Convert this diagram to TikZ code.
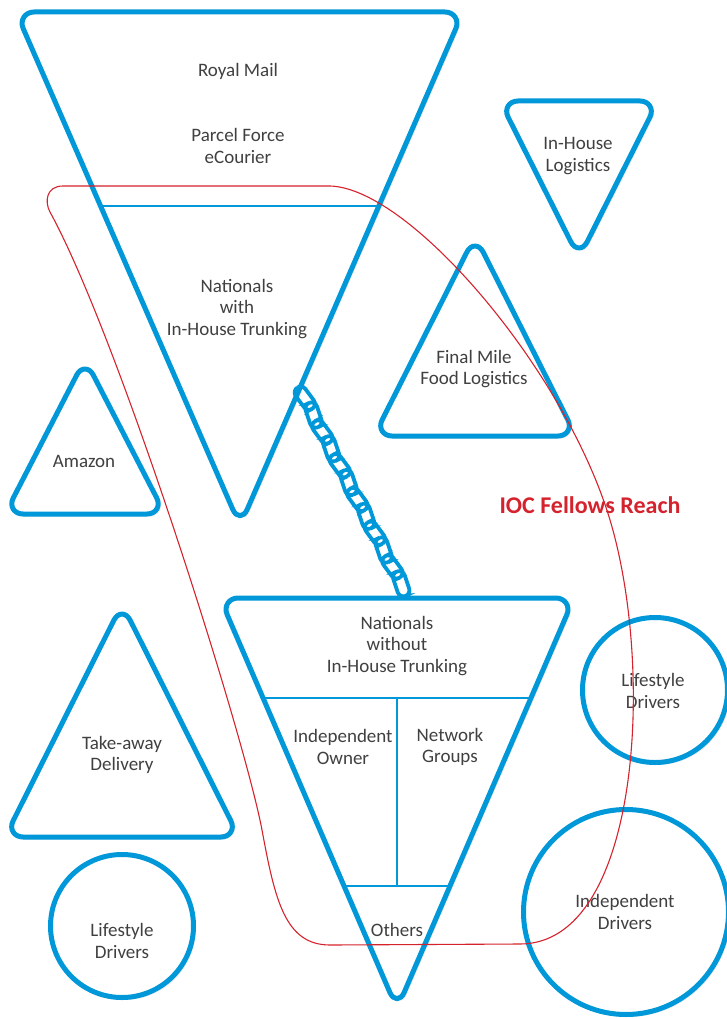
\documentclass[tikz,border=0pt]{standalone}
\usepackage{fontspec}
\setmainfont{Carlito}
\usepackage{tikz}
\usetikzlibrary{calc,shadows,positioning}

\definecolor{ioblue}{RGB}{0,152,216}
\definecolor{iored}{RGB}{213,35,45}
\definecolor{iotext}{RGB}{64,64,64}

% triangle with rounded tips: #2,#3,#4 are its corners
\newcommand{\roundtri}[4][]{%
  \draw[tribox,#1] ($(#2)!18pt!(#3)$) -- ($(#3)!18pt!(#2)$)
    .. controls ($(#3)!9pt!(#2)$) and ($(#3)!9pt!(#4)$) .. ($(#3)!18pt!(#4)$) -- ($(#4)!18pt!(#3)$)
    .. controls ($(#4)!9pt!(#3)$) and ($(#4)!9pt!(#2)$) .. ($(#4)!18pt!(#2)$) -- ($(#2)!18pt!(#4)$)
    .. controls ($(#2)!9pt!(#4)$) and ($(#2)!9pt!(#3)$) .. ($(#2)!18pt!(#3)$) -- cycle;}

\begin{document}
\begin{tikzpicture}[x=1pt,y=-1pt,
    tribox/.style={draw=ioblue, line width=5pt, line join=round, fill=white,
        drop shadow={shadow xshift=2.5pt, shadow yshift=-2.5pt, opacity=0.16}},
    ringbox/.style={draw=ioblue, line width=5pt, fill=white,
        drop shadow={shadow xshift=2.5pt, shadow yshift=-2.5pt, opacity=0.16}},
    split/.style={draw=ioblue, line width=2.2pt},
    lbl/.style={text=iotext, align=center, font=\fontsize{19}{21.5}\selectfont},
    chainlink/.style={draw=ioblue, line width=3.8pt, rounded corners=6pt, inner sep=0pt,
        minimum width=26pt, minimum height=12pt},
    reach/.style={draw=iored, line width=1.1pt}]
    \useasboundingbox (0,0) rectangle (726,1019);

    % Top funnel
    \coordinate (rmL) at (16,12);
    \coordinate (rmR) at (463,12);
    \coordinate (rmB) at (240,526);
    \roundtri{rmL}{rmR}{rmB}
    \draw[split] ($(rmL)!0.377!(rmB)$) -- ($(rmR)!0.377!(rmB)$);
    \node[lbl] (royal) at (238,71) {Royal Mail};
    \node[lbl] (parcel) at (238,146) {Parcel Force\\eCourier};
    \node[lbl] (withtrunk) at (237,309) {Nationals\\with\\In-House Trunking};

    % Small triangles
    \coordinate (ihL) at (500,101);
    \coordinate (ihR) at (658,101);
    \coordinate (ihB) at (579,258);
    \roundtri{ihL}{ihR}{ihB}
    \node[lbl] (inhouse) at (578,156) {In-House\\Logistics};

    \coordinate (fmT) at (475,236);
    \coordinate (fmR) at (576,436);
    \coordinate (fmL) at (374,436);
    \roundtri{fmT}{fmR}{fmL}
    \node[lbl] (finalmile) at (474,369) {Final Mile\\Food Logistics};

    \coordinate (amT) at (85,359);
    \coordinate (amR) at (165,514);
    \coordinate (amL) at (5,514);
    \roundtri{amT}{amR}{amL}
    \node[lbl] (amazon) at (84,461) {Amazon};

    \coordinate (taT) at (122,604);
    \coordinate (taR) at (239,837);
    \coordinate (taL) at (5,837);
    \roundtri{taT}{taR}{taL}
    \node[lbl] (takeaway) at (122,755) {Take-away\\Delivery};

    % Circles
    \draw[ringbox] (122,926) circle[radius=71.5];
    \node[lbl] (lifeleft) at (122,941) {Lifestyle\\Drivers};

    \draw[ringbox] (655,690) circle[radius=72.5];
    \node[lbl] (liferight) at (653,691) {Lifestyle\\Drivers};

    \draw[ringbox] (626,912) circle[radius=102.5];
    \node[lbl] (inddrivers) at (625,912) {Independent\\Drivers};

    % Bottom funnel
    \coordinate (nwL) at (220,598);
    \coordinate (nwR) at (574,598);
    \coordinate (nwB) at (397,1009);
    \roundtri{nwL}{nwR}{nwB}
    \draw[split] ($(nwL)!0.243!(nwB)$) -- ($(nwR)!0.243!(nwB)$);
    \draw[split] ($(nwL)!0.7!(nwB)$) -- ($(nwR)!0.7!(nwB)$);
    \draw[split] (397,698) -- (397,886);
    \node[lbl] (without) at (397,646) {Nationals\\without\\In-House Trunking};
    \node[lbl] (owner) at (343,747) {Independent\\Owner};
    \node[lbl] (network) at (450,747) {Network\\Groups};
    \node[lbl] (others) at (397,930) {Others};

    % Chain between the funnels
    \coordinate (chainA) at (300,389);
    \coordinate (chainB) at (406,593);
    \foreach \i in {0,...,11}{
        \pgfmathsetmacro\p{0.045+0.0827*\i}
        \pgfmathsetmacro\tw{mod(\i,2)==0 ? 9 : -9}
        \path (chainA) -- (chainB) node[pos=\p, sloped, rotate=\tw, chainlink] (link\i) {};
    }

    % Reach outline
    \draw[reach] (63,186) -- (330,186)
        .. controls (410,188) and (565,370) .. (610,520)
        .. controls (655,670) and (640,944) .. (520,944)
        -- (330,945)
        .. controls (285,945) and (275,900) .. (262,830)
        .. controls (245,739) and (120,340) .. (50,212)
        .. controls (44.5,202) and (46,186) .. cycle;
    \node[text=iored, font=\fontsize{24}{28}\selectfont\bfseries] (reachlbl) at (590,505) {IOC Fellows Reach};
\end{tikzpicture}
\end{document}
